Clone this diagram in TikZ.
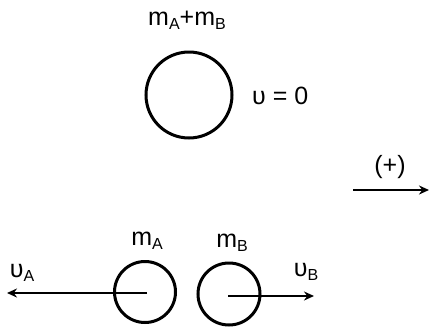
\documentclass[tikz,border=0pt]{standalone}
\usepackage{fontspec}
\setmainfont{Liberation Sans}
\usetikzlibrary{arrows.meta}
\newcommand{\sbs}[1]{\raisebox{-0.3ex}{\fontsize{16}{16}\selectfont #1}}
\tikzset{
  body/.style={draw, circle, line width=3pt, inner sep=0pt},
  lbl/.style={font=\fontsize{25}{25}\selectfont, inner sep=0pt},
  vec/.style={line width=2.3pt, -{Stealth[length=10pt,width=9pt]}}
}
\begin{document}
\begin{tikzpicture}[x=1pt,y=-1pt]
\useasboundingbox (0,0) rectangle (429,327);
\node[body, minimum size=86pt] (big) at (189,95) {};
\node[lbl] (mab) at (187,20) {m\sbs{A}+m\sbs{B}};
\node[lbl, anchor=west] (u0) at (252,96) {υ = 0};
\coordinate (p1) at (353,190);
\coordinate (p2) at (429,190);
\draw[vec] (p1) -- (p2);
\node[lbl] (plus) at (390,167) {(+)};
\node[body, minimum size=61pt] (ca) at (145,292) {};
\node[body, minimum size=62pt] (cb) at (229,294) {};
\coordinate (sa) at (147,293);
\coordinate (ea) at (7,293);
\coordinate (sb) at (228,296);
\coordinate (eb) at (314,296);
\draw[vec] (sa) -- (ea);
\draw[vec] (sb) -- (eb);
\node[lbl] (ma) at (147,241) {m\sbs{A}};
\node[lbl] (mb) at (232,243) {m\sbs{B}};
\node[lbl] (ua) at (22,273) {υ\sbs{A}};
\node[lbl] (ub) at (306,272) {υ\sbs{B}};
\end{tikzpicture}
\end{document}
